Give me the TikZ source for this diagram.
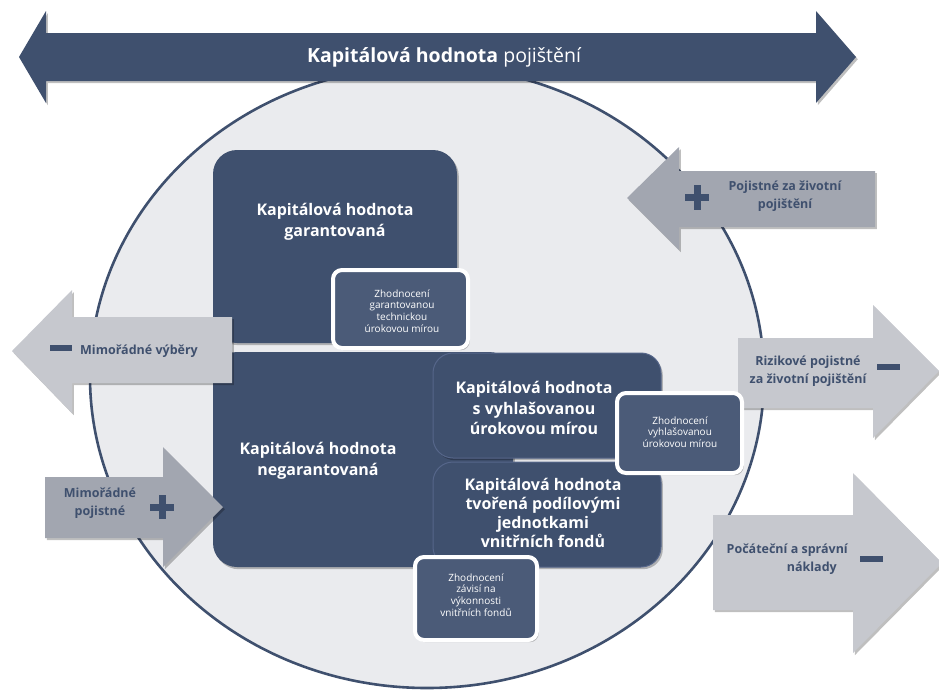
\documentclass[tikz,border=0pt]{standalone}
\usepackage{fontspec}
\setmainfont{Open Sans}
\usetikzlibrary{shadows}
\definecolor{dk}{HTML}{3F506E}
\definecolor{dkl}{HTML}{4B5B78}
\definecolor{lg}{HTML}{C6C8CE}
\definecolor{mg}{HTML}{A2A6B0}
\definecolor{cf}{HTML}{EAEBEE}
\definecolor{sbd}{HTML}{56668A}
\tikzset{
  shad/.style={drop shadow={shadow xshift=1.8pt,shadow yshift=-2.2pt,opacity=0.25,fill=black}},
  bigbox/.style={fill=dk, rounded corners=24pt, shad, inner sep=0pt},
  subbox/.style={fill=dk, draw=sbd, line width=1pt, rounded corners=20pt, shad, inner sep=0pt},
  smallbox/.style={fill=dkl, draw=white, line width=4pt, rounded corners=9pt, shad, inner sep=0pt},
  boxtext/.style={text=white, font=\fontsize{16}{20.5}\selectfont\bfseries, align=center, inner sep=0pt},
  smalltext/.style={text=white, font=\fontsize{10}{11.7}\selectfont, align=center, inner sep=0pt},
  arrowtext/.style={text=dk, font=\fontsize{12.5}{18}\selectfont\bfseries, align=center, inner sep=0pt},
  lightarrow/.style={fill=lg, shad},
  midarrow/.style={fill=mg, shad},
  signbar/.style={fill=dk},
}
\begin{document}
\begin{tikzpicture}[x=1pt,y=-1pt]
\useasboundingbox (0,0) rectangle (939,689);
% circle
\draw[fill=cf, draw=dk, line width=2.6pt] (427,377) ellipse [x radius=337pt, y radius=311pt];
% top double arrow
\fill[dk, shad] (19,57) -- (46,11) -- (46,33) -- (816,33) -- (816,11) -- (856,57)
  -- (816,103) -- (816,81) -- (46,81) -- (46,103) -- cycle;
\node[text=white, font=\fontsize{19.5}{22}\selectfont, inner sep=0pt] (title) at (444,57)
  {\textbf{Kapitálová hodnota} pojištění};
% garantovana
\node[bigbox, minimum width=244pt, minimum height=193pt] (gar) at (335,246.5) {};
\node[boxtext] (gart) at (335,222) {Kapitálová hodnota\\garantovaná};
% negarantovana
\node[bigbox, minimum width=300pt, minimum height=215pt] (neg) at (363,459.5) {};
\node[boxtext] (negt) at (318,461) {Kapitálová hodnota\\negarantovaná};
\node[subbox, minimum width=228pt, minimum height=105pt] (vyh) at (547,405.5) {};
\node[boxtext] (vyht) at (534,408) {Kapitálová hodnota\\s vyhlašovanou\\úrokovou mírou};
\node[subbox, minimum width=228pt, minimum height=105pt] (pod) at (547,514.5) {};
\node[boxtext, font=\fontsize{16}{19}\selectfont\bfseries] (podt) at (543,513) {Kapitálová hodnota\\tvořená podílovými\\jednotkami\\vnitřních fondů};
% side arrows
\fill[midarrow] (627,198) -- (679,147) -- (679,171) -- (875,171) -- (875,227) -- (679,227) -- (679,250) -- cycle;
\fill[signbar] (685,194) rectangle (709,201);
\fill[signbar] (693.5,185) rectangle (700.5,210);
\node[arrowtext] (pzp) at (785,196) {Pojistné za životní\\pojištění};

\fill[lightarrow] (738,338) -- (873,338) -- (873,305) -- (939,371) -- (873,438) -- (873,408) -- (738,408) -- cycle;
\fill[signbar] (877,364) rectangle (900,370);
\node[arrowtext] (riz) at (808,371) {Rizikové pojistné\\za životní pojištění};

\fill[lightarrow] (713,515) -- (853,515) -- (853,473) -- (942,563) -- (853,653) -- (853,610) -- (713,610) -- cycle;
\fill[signbar] (860,556) rectangle (883,562);
\node[arrowtext, anchor=east] (poc1) at (848,550) {Počáteční a správní};
\node[arrowtext, anchor=east] (poc2) at (837,568) {náklady};

\fill[lightarrow] (12,351) -- (72,290) -- (72,317) -- (232,317) -- (232,383) -- (72,383) -- (72,413) -- cycle;
\fill[signbar] (50,345) rectangle (72,351);
\node[arrowtext, anchor=west] (mv) at (80,351) {Mimořádné výběry};

\fill[midarrow] (45,477) -- (163,477) -- (163,447) -- (223,507) -- (163,567) -- (163,538) -- (45,538) -- cycle;
\fill[signbar] (150,503.5) rectangle (174,510.5);
\fill[signbar] (158.5,495) rectangle (165.5,519);
\node[arrowtext] (mp) at (100,503) {Mimořádné\\pojistné};
% small boxes
\node[smallbox, minimum width=135pt, minimum height=78pt] (s1) at (400.5,309) {};
\node[smalltext] (s1t) at (402,311) {Zhodnocení\\garantovanou\\technickou\\úrokovou mírou};
\node[smallbox, minimum width=125pt, minimum height=80pt] (s2) at (679.5,433) {};
\node[smalltext] (s2t) at (680,432) {Zhodnocení\\vyhlašovanou\\úrokovou mírou};
\node[smallbox, minimum width=122pt, minimum height=83pt] (s3) at (476,598.5) {};
\node[smalltext] (s3t) at (476,595) {Zhodnocení\\závisí na\\výkonnosti\\vnitřních fondů};
\end{tikzpicture}
\end{document}
